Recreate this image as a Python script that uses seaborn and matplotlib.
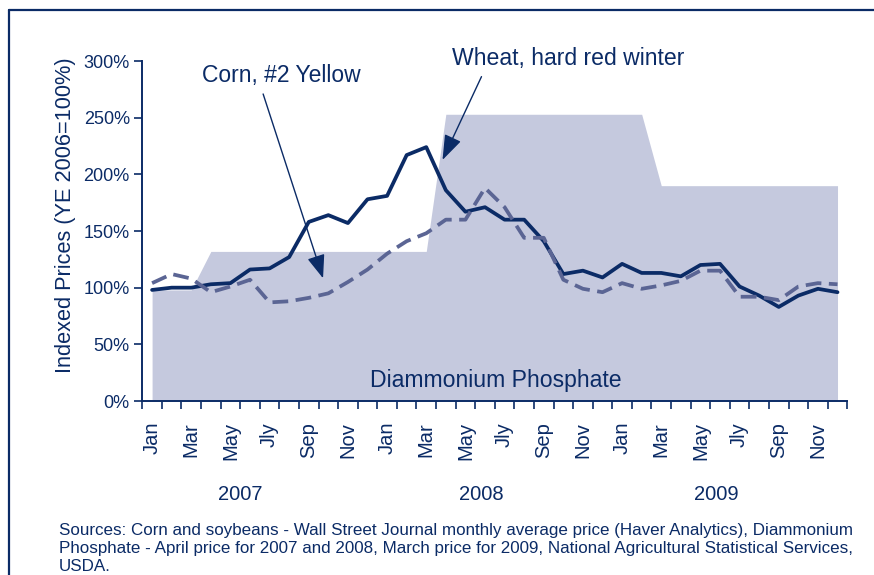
import matplotlib
matplotlib.use("Agg")
import matplotlib.pyplot as plt
from matplotlib.lines import Line2D
import seaborn as sns
import pandas as pd
import numpy as np

# ---------------- data ----------------
month_names = ["Jan", "Feb", "Mar", "Apr", "May", "Jun",
               "Jul", "Aug", "Sep", "Oct", "Nov", "Dec"]
years = ["2007", "2008", "2009"]
tick_labels = ["Jan", "Mar", "May", "Jly", "Sep", "Nov"]

wheat = [98, 100, 100, 103, 104, 116, 117, 127, 158, 164, 157, 178,
         181, 217, 224, 186, 167, 171, 160, 160, 141, 112, 115, 109,
         121, 113, 113, 110, 120, 121, 101, 93, 83, 93, 99, 96]
corn = [104, 112, 108, 96, 101, 107, 87, 88, 91, 95, 105, 116,
        130, 141, 148, 160, 160, 188, 171, 144, 144, 107, 99, 96,
        104, 99, 102, 106, 115, 115, 92, 92, 89, 101, 104, 103]
dap = [98, 98, 98, 132, 132, 132, 132, 132, 132, 132, 132, 132,
       132, 132, 132, 253, 253, 253, 253, 253, 253, 253, 253, 253,
       253, 253, 190, 190, 190, 190, 190, 190, 190, 190, 190, 190]

yticks = [0, 50, 100, 150, 200, 250, 300]

# ---------------- styling ----------------
NAVY = "#0b2b66"
DASH = "#5b6594"
FILL = "#c5c9de"

sns.set_style("white")
plt.rcParams["font.family"] = ["Liberation Sans", "DejaVu Sans"]
plt.rcParams["text.color"] = NAVY

n = len(wheat)
idx = np.arange(n)
df = pd.DataFrame({
    "m": np.concatenate([idx, idx]),
    "value": wheat + corn,
    "series": ["Wheat, hard red winter"] * n + ["Corn, #2 Yellow"] * n,
})

fig = plt.figure(figsize=(8.74, 5.75), dpi=100)
ax = fig.add_axes([142.3 / 874, 1 - 401 / 575, 705 / 874, 340 / 575])

ax.fill_between(idx, 0, dap, color=FILL, lw=0, zorder=1)

sns.lineplot(data=df, x="m", y="value", hue="series", style="series",
             palette={"Wheat, hard red winter": NAVY, "Corn, #2 Yellow": DASH},
             dashes={"Wheat, hard red winter": "", "Corn, #2 Yellow": (4.2, 2.0)},
             linewidth=2.7, legend=False, ax=ax, zorder=3)

ax.set_xlim(-0.5, n - 0.5)
ax.set_ylim(0, 300)
ax.set_xlabel("")
ax.set_ylabel("")

for s in ["top", "right"]:
    ax.spines[s].set_visible(False)
for s in ["left", "bottom"]:
    ax.spines[s].set_color(NAVY)
    ax.spines[s].set_linewidth(1.4)

ax.set_yticks(yticks)
ax.set_yticklabels([f"{v}%" for v in yticks])
ax.tick_params(axis="y", direction="out", length=6, width=1.2, color=NAVY,
               labelcolor=NAVY, labelsize=13, pad=3, left=True)

ax.set_xticks(np.arange(-0.5, n, 1.0))
ax.set_xticklabels([])
ax.tick_params(axis="x", which="major", direction="out", length=5.5, width=1.2,
               color=NAVY, bottom=True)
minor_pos = np.arange(0, n, 2)
ax.set_xticks(minor_pos, minor=True)
ax.set_xticklabels([tick_labels[i % 6] for i in range(len(minor_pos))],
                   minor=True, rotation=90)
ax.tick_params(axis="x", which="minor", length=0, pad=15, labelsize=14.5,
               labelcolor=NAVY)

# Year labels
for yr, xp in zip(years, [240, 481, 716]):
    fig.text(xp / 874, 1 - 495 / 575, yr, ha="center", va="center",
             fontsize=14.5, color=NAVY)

# Y label
fig.text(66 / 874, 1 - 215 / 575, "Indexed Prices (YE 2006=100%)",
         rotation=90, ha="center", va="center", fontsize=15.7, color=NAVY)

# Series annotations
ax.text(6.58, 287, "Corn, #2 Yellow", ha="center", va="center",
        fontsize=16.5, color=NAVY, clip_on=False)
ax.annotate("", xy=(8.73, 108.3), xytext=(5.67, 270.9),
            arrowprops=dict(arrowstyle="-|>,head_length=1.45,head_width=0.55",
                            color=NAVY, lw=1.0, shrinkA=0, shrinkB=0,
                            mutation_scale=10), zorder=5)
ax.text(21.27, 302, "Wheat, hard red winter", ha="center", va="center",
        fontsize=16.6, color=NAVY, clip_on=False)
ax.annotate("", xy=(14.83, 212.7), xytext=(16.82, 286.2),
            arrowprops=dict(arrowstyle="-|>,head_length=1.55,head_width=0.55",
                            color=NAVY, lw=1.0, shrinkA=0, shrinkB=0,
                            mutation_scale=10), zorder=5, annotation_clip=False)

ax.text((496 - 152.1) / 19.6, 18.5, "Diammonium Phosphate", ha="center",
        va="center", fontsize=16.6, color=NAVY, zorder=4)

# Sources
fig.text(59 / 874, 1 - 522.5 / 575,
         "Sources: Corn and soybeans - Wall Street Journal monthly average price (Haver Analytics), Diammonium\n"
         "Phosphate - April price for 2007 and 2008, March price for 2009, National Agricultural Statistical Services,\n"
         "USDA.",
         ha="left", va="top", fontsize=12.25, color=NAVY, linespacing=1.27)

# Frame
fig.add_artist(Line2D([9 / 874, 1], [1 - 10 / 575, 1 - 10 / 575],
                      transform=fig.transFigure, color=NAVY, lw=1.6))
fig.add_artist(Line2D([9 / 874, 9 / 874], [0, 1 - 10 / 575],
                      transform=fig.transFigure, color=NAVY, lw=1.6))

fig.savefig("out.png", dpi=100)
